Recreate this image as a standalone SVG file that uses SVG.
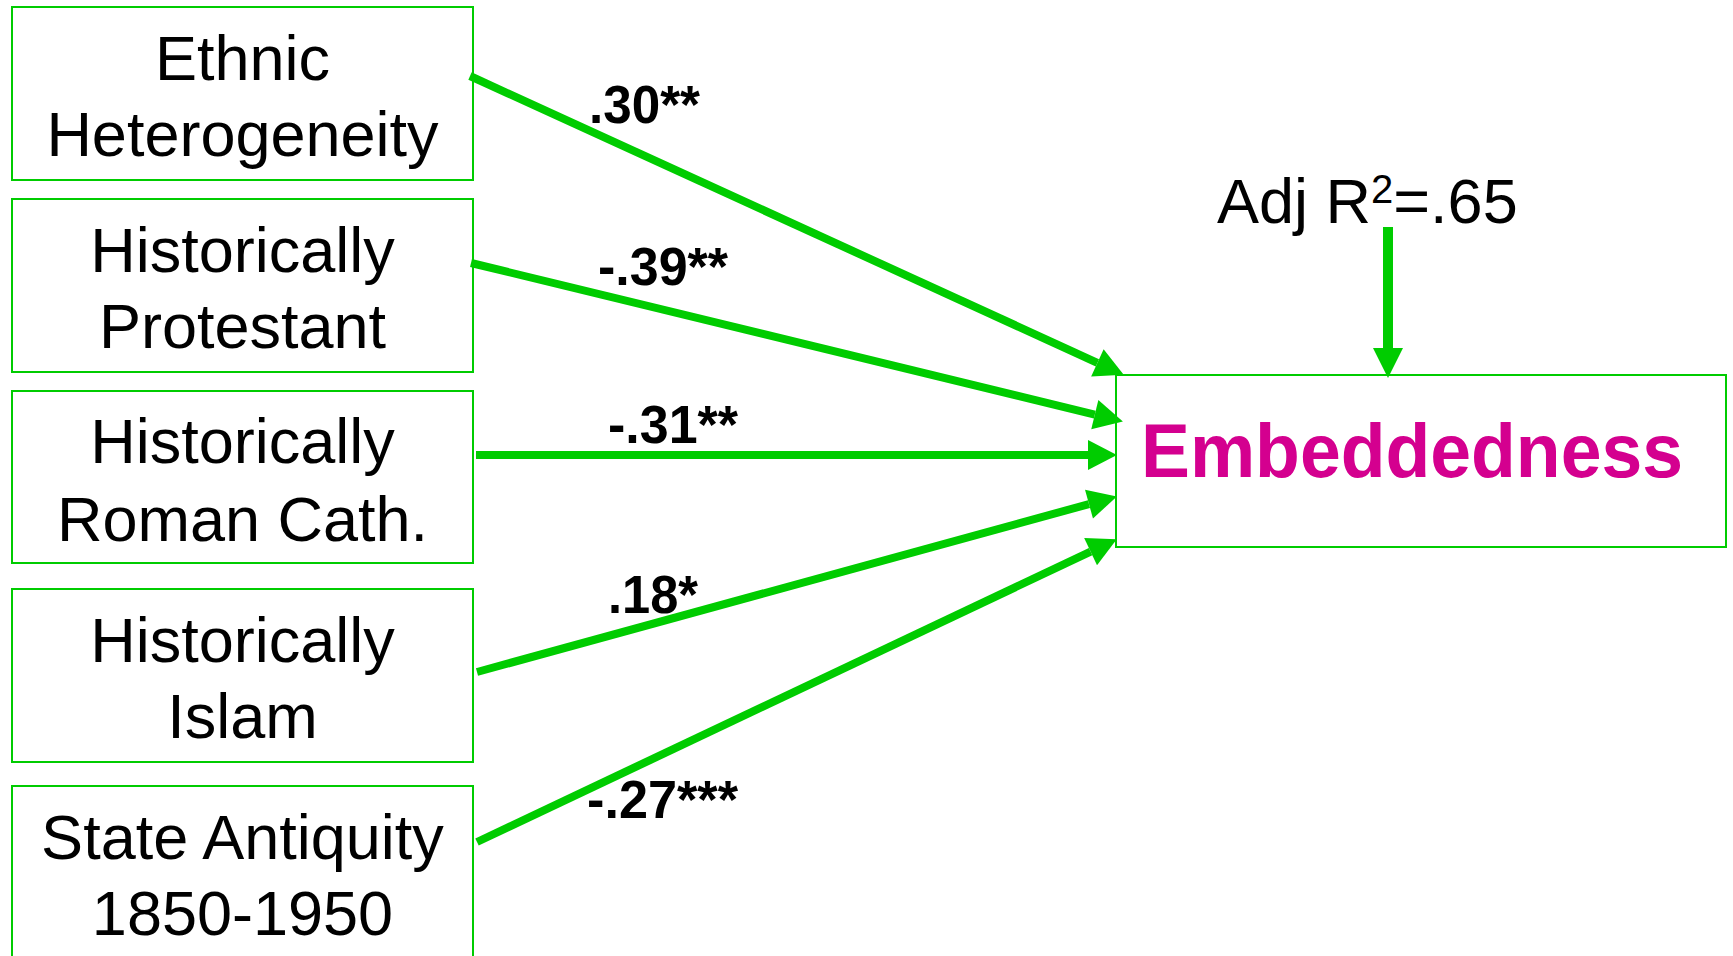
<svg xmlns="http://www.w3.org/2000/svg" width="1733" height="956" viewBox="0 0 1733 956">
<style>
.box{fill:#ffffff;stroke:#00cc00;stroke-width:2}
.lbl{font-family:"Liberation Sans",Arial,sans-serif;font-size:63px;fill:#000000;text-anchor:middle}
.coef{font-family:"Liberation Sans",Arial,sans-serif;font-size:53px;font-weight:bold;fill:#000000}
.conn{stroke:#00cc00;stroke-width:8;fill:none}
</style>
<defs>
<marker id="ah" markerUnits="userSpaceOnUse" markerWidth="30" markerHeight="30" refX="0" refY="14" orient="auto" viewBox="0 0 28 28" overflow="visible">
<path d="M0,0 L27,14 L0,28 z" fill="#00cc00"/>
</marker>
</defs>
<rect width="1733" height="956" fill="#ffffff"/>
<g id="n-ethnic">
<rect class="box" x="12" y="7" width="461" height="173"/>
<text class="lbl" x="242.5" y="80">Ethnic</text>
<text class="lbl" x="242.5" y="156">Heterogeneity</text>
</g>
<g id="n-protestant">
<rect class="box" x="12" y="199" width="461" height="173"/>
<text class="lbl" x="242.5" y="272">Historically</text>
<text class="lbl" x="242.5" y="348">Protestant</text>
</g>
<g id="n-catholic">
<rect class="box" x="12" y="391" width="461" height="172"/>
<text class="lbl" x="242.5" y="463">Historically</text>
<text class="lbl" x="242.5" y="541">Roman Cath.</text>
</g>
<g id="n-islam">
<rect class="box" x="12" y="589" width="461" height="173"/>
<text class="lbl" x="242.5" y="662">Historically</text>
<text class="lbl" x="242.5" y="738">Islam</text>
</g>
<g id="n-antiquity">
<rect class="box" x="12" y="786" width="461" height="190"/>
<text class="lbl" x="242.5" y="859">State Antiquity</text>
<text class="lbl" x="242.5" y="935">1850-1950</text>
</g>
<g id="n-embeddedness">
<rect class="box" x="1116" y="375" width="610" height="172"/>
<text x="1141" y="477" font-family="'Liberation Sans',Arial,sans-serif" font-size="76" font-weight="bold" fill="#d4008f" textLength="542" lengthAdjust="spacingAndGlyphs">Embeddedness</text>
</g>
<g id="n-r2">
<text x="1217" y="223" font-family="'Liberation Sans',Arial,sans-serif" font-size="63" fill="#000000">Adj R<tspan font-size="40" dy="-20">2</tspan><tspan dy="20">=.65</tspan></text>
</g>
<g id="connectors">
<line class="conn" x1="470" y1="76" x2="1097.4" y2="362.8" marker-end="url(#ah)"/>
<line class="conn" x1="471" y1="263" x2="1094.8" y2="414.6" marker-end="url(#ah)"/>
<line class="conn" x1="476" y1="455" x2="1088" y2="455" marker-end="url(#ah)"/>
<line class="conn" x1="477" y1="672" x2="1089" y2="504.1" marker-end="url(#ah)"/>
<line class="conn" x1="477" y1="842" x2="1090.6" y2="551.6" marker-end="url(#ah)"/>
<line x1="1388" y1="227" x2="1388" y2="349" stroke="#00cc00" stroke-width="10"/>
<polygon points="1373,348 1403,348 1388,378" fill="#00cc00"/>
<text class="coef" x="589" y="123" textLength="111" lengthAdjust="spacingAndGlyphs">.30**</text>
<text class="coef" x="598" y="285" textLength="130" lengthAdjust="spacingAndGlyphs">-.39**</text>
<text class="coef" x="608" y="443" textLength="130" lengthAdjust="spacingAndGlyphs">-.31**</text>
<text class="coef" x="608" y="613" textLength="90" lengthAdjust="spacingAndGlyphs">.18*</text>
<text class="coef" x="587" y="818" textLength="151" lengthAdjust="spacingAndGlyphs">-.27***</text>
</g>
</svg>
